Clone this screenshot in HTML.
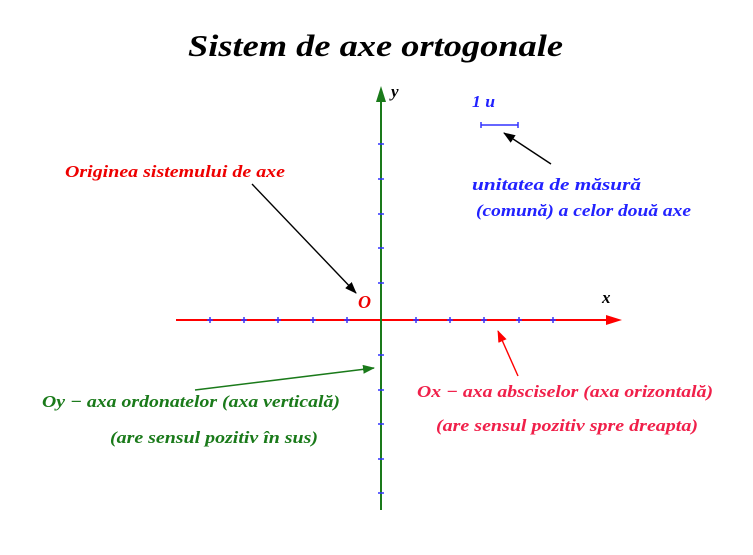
<!DOCTYPE html>
<html><head><meta charset="utf-8"><style>
html,body{margin:0;padding:0;background:#fff;width:753px;height:555px;overflow:hidden}
text{font-family:"Liberation Serif",serif;font-style:italic;font-weight:bold}
</style></head><body>
<svg width="753" height="555" viewBox="0 0 753 555" xmlns="http://www.w3.org/2000/svg">
<defs>
<marker id="ak" markerWidth="12" markerHeight="9" refX="11" refY="4.5" orient="auto" markerUnits="userSpaceOnUse"><path d="M0,0 L12,4.5 L0,9 z" fill="#000"/></marker>
<marker id="ar" markerWidth="12" markerHeight="9" refX="11" refY="4.5" orient="auto" markerUnits="userSpaceOnUse"><path d="M0,0 L12,4.5 L0,9 z" fill="#f00"/></marker>
<marker id="ag" markerWidth="12" markerHeight="9" refX="11" refY="4.5" orient="auto" markerUnits="userSpaceOnUse"><path d="M0,0 L12,4.5 L0,9 z" fill="#1a7a1a"/></marker>
</defs>
<text x="188" y="56" font-size="31" textLength="375" lengthAdjust="spacingAndGlyphs" fill="#000">Sistem de axe ortogonale</text>
<line x1="176" y1="320" x2="608" y2="320" stroke="#f00" stroke-width="2"/>
<path d="M606,315 L622,320 L606,325 z" fill="#f00"/>
<line x1="381" y1="510" x2="381" y2="100" stroke="#1a7a1a" stroke-width="2"/>
<path d="M376,102 L381,86 L386,102 z" fill="#1a7a1a"/>
<g stroke="#33f" stroke-width="1.5">
<path d="M210,317v6M244,317v6M278,317v6M313,317v6M347,317v6M416,317v6M450,317v6M484,317v6M519,317v6M553,317v6"/>
<path d="M207,320h6M241,320h6M275,320h6M310,320h6M344,320h6M413,320h6M447,320h6M481,320h6M516,320h6M550,320h6"/>
<path d="M378,144h6M378,179h6M378,214h6M378,248h6M378,283h6M378,355h6M378,390h6M378,424h6M378,459h6M378,493h6"/>
<line x1="481" y1="125" x2="518" y2="125"/><line x1="481" y1="122" x2="481" y2="128"/><line x1="518" y1="122" x2="518" y2="128"/>
</g>
<text x="391" y="97" font-size="17" fill="#000">y</text>
<text x="602" y="303" font-size="17" fill="#000">x</text>
<text x="358" y="308" font-size="18" fill="#e00" font-weight="normal">O</text>
<text x="472" y="107" font-size="17" fill="#22f" textLength="23" lengthAdjust="spacingAndGlyphs">1 u</text>
<line x1="551" y1="164" x2="504" y2="133" stroke="#000" stroke-width="1.4" marker-end="url(#ak)"/>
<text x="472" y="190" font-size="17" fill="#22f" textLength="169" lengthAdjust="spacingAndGlyphs">unitatea de măsură</text>
<text x="476" y="216" font-size="17" fill="#22f" textLength="215" lengthAdjust="spacingAndGlyphs">(comună) a celor două axe</text>
<text x="65" y="177" font-size="17" fill="#e00" textLength="220" lengthAdjust="spacingAndGlyphs">Originea sistemului de axe</text>
<line x1="252" y1="184" x2="356" y2="293" stroke="#000" stroke-width="1.4" marker-end="url(#ak)"/>
<line x1="518" y1="376" x2="498" y2="331" stroke="#f00" stroke-width="1.4" marker-end="url(#ar)"/>
<line x1="195" y1="390" x2="374" y2="368" stroke="#1a7a1a" stroke-width="1.6" marker-end="url(#ag)"/>
<text x="42" y="407" font-size="17" fill="#1a7a1a" textLength="298" lengthAdjust="spacingAndGlyphs">Oy − axa ordonatelor (axa verticală)</text>
<text x="110" y="443" font-size="17" fill="#1a7a1a" textLength="208" lengthAdjust="spacingAndGlyphs">(are sensul pozitiv în sus)</text>
<text x="417" y="397" font-size="17" fill="#f0204a" textLength="296" lengthAdjust="spacingAndGlyphs">Ox − axa absciselor (axa orizontală)</text>
<text x="436" y="431" font-size="17" fill="#f0204a" textLength="262" lengthAdjust="spacingAndGlyphs">(are sensul pozitiv spre dreapta)</text>
</svg>
</body></html>
